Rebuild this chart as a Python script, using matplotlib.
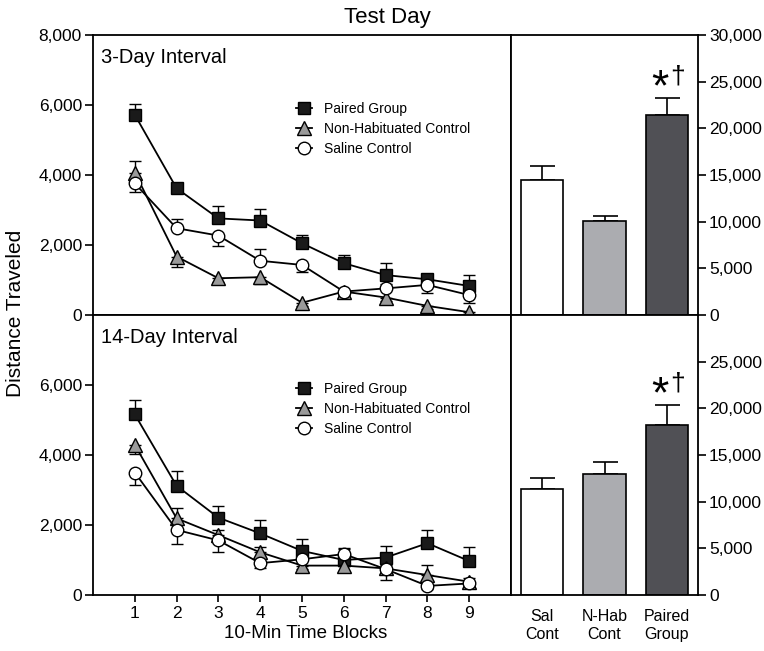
import matplotlib
matplotlib.use("Agg")
import matplotlib.pyplot as plt
import numpy as np
from matplotlib.ticker import FuncFormatter

plt.rcParams['font.family'] = ['Liberation Sans', 'DejaVu Sans']

blocks = [1, 2, 3, 4, 5, 6, 7, 8, 9]
series_names = ["Paired Group", "Non-Habituated Control", "Saline Control"]

# 3-Day interval (signed errors: + drawn upward, - drawn downward)
d3_paired = [5720, 3620, 2760, 2700, 2050, 1480, 1140, 1020, 830]
d3_paired_err = [320, 150, 350, 330, 240, 240, 360, 120, 310]
d3_nonhab = [4070, 1670, 1050, 1080, 350, 670, 500, 260, 80]
d3_nonhab_err = [330, -300, -100, -190, -80, -100, -100, -80, -60]
d3_saline = [3760, 2480, 2270, 1550, 1430, 670, 760, 860, 570]
d3_saline_err = [-240, 270, -300, 330, -210, -150, 120, -240, -230]

# 14-Day interval
d14_paired = [5160, 3120, 2210, 1760, 1260, 1000, 1070, 1480, 970]
d14_paired_err = [400, 430, 340, 380, 330, 350, 330, 380, 390]
d14_nonhab = [4290, 2190, 1710, 1220, 840, 840, 760, 570, 380]
d14_nonhab_err = [-270, 290, 150, 150, -100, 150, 100, 300, 100]
d14_saline = [3500, 1860, 1560, 910, 1020, 1170, 740, 260, 330]
d14_saline_err = [-360, -390, -320, -150, 100, 150, -310, -80, -80]

# Test day totals
bar_labels = ["Sal\nCont", "N-Hab\nCont", "Paired\nGroup"]
bar3_vals = [14460, 10040, 21460]
bar3_err = [1500, 570, 1750]
bar14_vals = [11320, 13000, 18180]
bar14_err = [1250, 1250, 2140]

W, H = 764, 651
fig = plt.figure(figsize=(W / 100, H / 100), dpi=100)

def rect(x0, y0, x1, y1):
    return [x0 / W, 1 - y1 / H, (x1 - x0) / W, (y1 - y0) / H]

axL1 = fig.add_axes(rect(93, 35, 511, 315))
axL2 = fig.add_axes(rect(93, 315, 511, 595))
axB1 = fig.add_axes(rect(511, 35, 698, 315))
axB2 = fig.add_axes(rect(511, 315, 698, 595))

fmt = FuncFormatter(lambda v, p: f"{int(v):,}")

styles = [
    dict(marker='s', mfc='#1a1a1a', mec='black', ms=8.5),
    dict(marker='^', mfc='#9a9a9a', mec='black', ms=9.5),
    dict(marker='o', mfc='white', mec='black', ms=9),
]

def split(err):
    lo = [(-e if e < 0 else 0) for e in err]
    hi = [(e if e > 0 else 0) for e in err]
    return [lo, hi]

def line_panel(ax, data, label, show_x):
    handles = []
    for (vals, err), st, name in zip(data, styles, series_names):
        ax.errorbar(blocks, vals, yerr=split(err), fmt='none', ecolor='black',
                    elinewidth=1.0, capsize=4.5, capthick=1.0, zorder=2)
        h, = ax.plot(blocks, vals, color='black', lw=1.3, mew=1.0, zorder=3,
                     label=name, **st)
        handles.append(h)
    ax.set_xlim(0, 10)
    ax.set_ylim(0, 8000)
    for s in ax.spines.values():
        s.set_linewidth(1.3)
    ax.tick_params(axis='y', direction='out', length=6, width=1.2, labelsize=12.5, pad=2)
    ax.yaxis.set_major_formatter(fmt)
    if show_x:
        ax.set_xticks(blocks)
        ax.tick_params(axis='x', direction='out', length=5, width=1.2, labelsize=12.5, pad=3)
        ax.set_yticks([0, 2000, 4000, 6000])
    else:
        ax.set_xticks([])
        ax.set_yticks([0, 2000, 4000, 6000, 8000])
    ax.text(0.019, 0.9, label, transform=ax.transAxes, fontsize=14.5, va='baseline')
    ax.legend(handles=handles, loc='upper left', bbox_to_anchor=(0.485, 0.762),
              frameon=False, fontsize=10, handlelength=1.2, handletextpad=0.8,
              labelspacing=0.45, borderpad=0, borderaxespad=0)

line_panel(axL1, [(d3_paired, d3_paired_err), (d3_nonhab, d3_nonhab_err),
                  (d3_saline, d3_saline_err)], "3-Day Interval", False)
line_panel(axL2, [(d14_paired, d14_paired_err), (d14_nonhab, d14_nonhab_err),
                  (d14_saline, d14_saline_err)], "14-Day Interval", True)

bar_colors = ['white', '#abacb0', '#505055']

def bar_panel(ax, vals, err, ticks, show_x):
    x = np.arange(len(vals))
    ax.bar(x, vals, width=0.675, color=bar_colors, edgecolor='black', linewidth=1.2, zorder=2)
    ax.errorbar(x, vals, yerr=[[0] * len(err), err], fmt='none', ecolor='black',
                elinewidth=1.2, capsize=9, capthick=1.2, zorder=1)
    ax.set_xlim(-0.5, 2.5)
    ax.set_ylim(0, 30000)
    ax.yaxis.tick_right()
    ax.set_yticks(ticks)
    ax.yaxis.set_major_formatter(fmt)
    ax.tick_params(axis='y', direction='out', length=6, width=1.2, labelsize=12.5, pad=2)
    for s in ax.spines.values():
        s.set_linewidth(1.3)
    if show_x:
        ax.set_xticks(x)
        ax.set_xticklabels(bar_labels, fontsize=11.5, linespacing=1.3)
        ax.tick_params(axis='x', length=0, pad=10)
    else:
        ax.set_xticks([])
    top = vals[2] + err[2]
    ax.text(1.89, top + 1000, "*", fontsize=32, ha='center', va='center')
    ax.text(2.18, top + 2300, "\u2020", fontsize=19, ha='center', va='center')

bar_panel(axB1, bar3_vals, bar3_err, list(range(0, 30001, 5000)), False)
bar_panel(axB2, bar14_vals, bar14_err, list(range(0, 25001, 5000)), True)

fig.text(387 / W, 1 - 17 / H, "Test Day", fontsize=16, ha='center', va='center')
fig.text(16 / W, 1 - 313 / H, "Distance Traveled", fontsize=15, rotation=90,
         ha='center', va='center')
fig.text(306 / W, 1 - 634 / H, "10-Min Time Blocks", fontsize=13.5, ha='center', va='center')

fig.savefig("out.png", dpi=100)
